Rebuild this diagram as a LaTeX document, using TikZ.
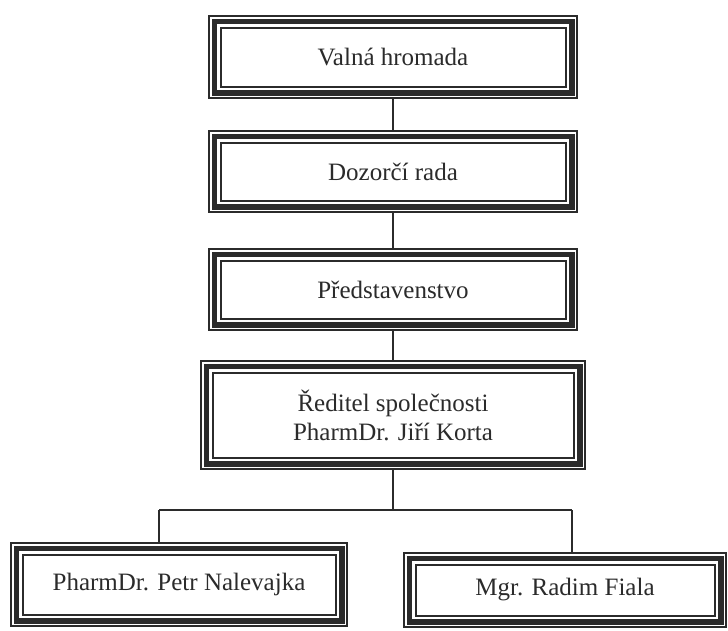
\documentclass[tikz,border=0pt]{standalone}
\usepackage{fontspec}
\setmainfont{Liberation Serif}
\usetikzlibrary{calc}
\definecolor{ink}{HTML}{2B2B2B}
\tikzset{
  orgbox/.style={rectangle, draw=none, inner sep=0pt, outer sep=0pt, align=center,
    font=\fontsize{25}{29}\selectfont, text=ink},
  conn/.style={draw=ink, line width=1.5pt},
  thinframe/.style={draw=ink, line width=2pt},
  thickframe/.style={draw=ink, line width=5.5pt}
}
\newcommand\triframe[1]{%
  \draw[thinframe] ([shift={(1pt,-1pt)}]#1.north west) rectangle ([shift={(-1pt,1pt)}]#1.south east);
  \draw[thickframe] ([shift={(6.25pt,-6.25pt)}]#1.north west) rectangle ([shift={(-6.25pt,6.25pt)}]#1.south east);
  \draw[thinframe] ([shift={(12.5pt,-12.5pt)}]#1.north west) rectangle ([shift={(-12.5pt,12.5pt)}]#1.south east);
}
\begin{document}
\begin{tikzpicture}[x=1pt,y=-1pt]
\useasboundingbox[fill=white] (0,0) rectangle (728,630);

\node[orgbox, minimum width=370pt, minimum height=84pt] (b1) at (393,57) {Valná hromada};
\node[orgbox, minimum width=370pt, minimum height=83pt] (b2) at (393,171.5) {Dozorčí rada};
\node[orgbox, minimum width=370pt, minimum height=83pt] (b3) at (393,289.5) {Představenstvo};
\node[orgbox, minimum width=386pt, minimum height=110pt] (b4) at (393,415) {Ředitel společnosti\\PharmDr. Jiří Korta};
\node[orgbox, minimum width=338pt, minimum height=85pt] (b5) at (179,584.5) {PharmDr. Petr Nalevajka};
\node[orgbox, minimum width=324pt, minimum height=76pt] (b6) at (565,590) {Mgr. Radim Fiala};

\triframe{b1}
\triframe{b2}
\triframe{b3}
\triframe{b4}
\triframe{b5}
\triframe{b6}

\coordinate (busM) at (393,510);
\coordinate (busL) at (159,510);
\coordinate (busR) at (572,510);

\draw[conn] (b1.south) -- (b2.north);
\draw[conn] (b2.south) -- (b3.north);
\draw[conn] (b3.south) -- (b4.north);
\draw[conn] (b4.south) -- (busM);
\draw[conn] (busL) -- (busR);
\draw[conn] (busL) -- (busL |- b5.north);
\draw[conn] (busR) -- (busR |- b6.north);
\end{tikzpicture}
\end{document}
